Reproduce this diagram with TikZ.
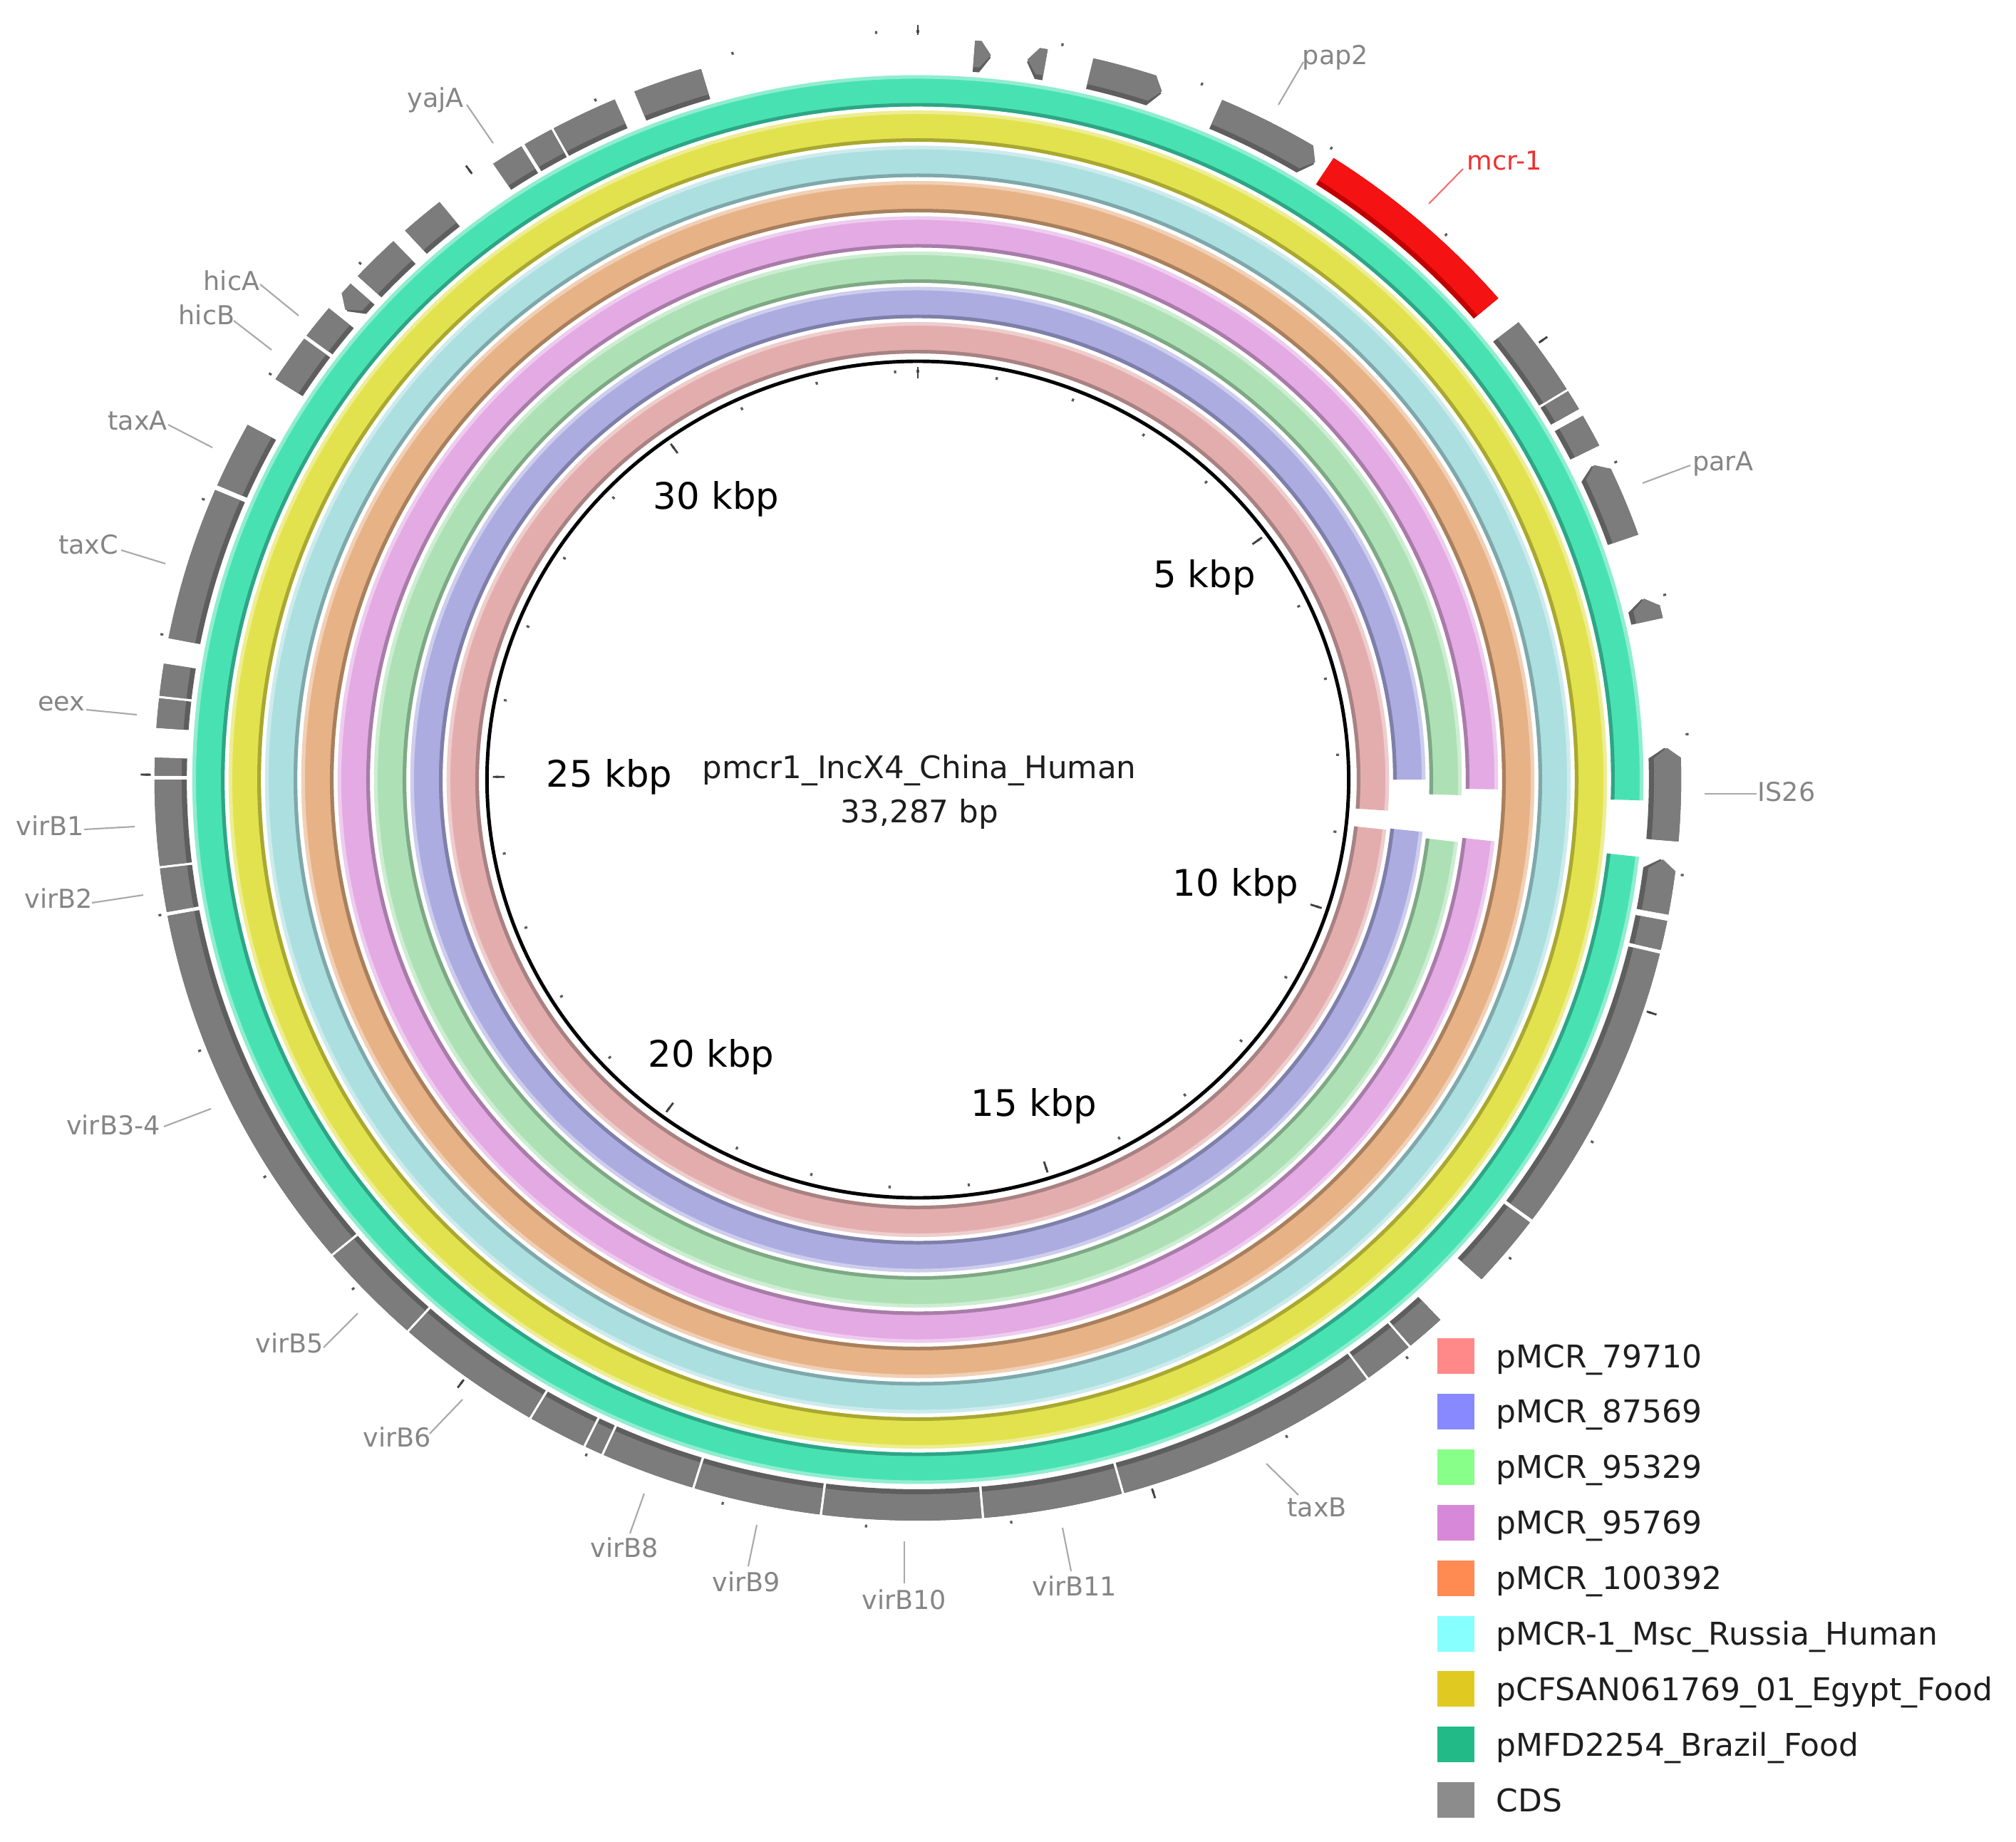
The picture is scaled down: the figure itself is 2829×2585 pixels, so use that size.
\documentclass[tikz,border=0pt]{standalone}
\usepackage{fontspec}
\setmainfont{DejaVu Sans}
% ring colours
\definecolor{rpink}{HTML}{E4ADAD}\definecolor{dpink}{HTML}{A88282}
\definecolor{rblue}{HTML}{ACACE1}\definecolor{dblue}{HTML}{7F7FAA}
\definecolor{rgreen}{HTML}{ADE1B5}\definecolor{dgreen}{HTML}{7FA886}
\definecolor{rmag}{HTML}{E3AAE3}\definecolor{dmag}{HTML}{A87CA8}
\definecolor{rorange}{HTML}{E7B286}\definecolor{dorange}{HTML}{A8805E}
\definecolor{rcyan}{HTML}{ACDFE0}\definecolor{dcyan}{HTML}{7FA8AA}
\definecolor{ryellow}{HTML}{E2E24E}\definecolor{dyellow}{HTML}{A8A832}
\definecolor{rteal}{HTML}{48E2B2}\definecolor{dteal}{HTML}{2FA585}
\definecolor{cdsgray}{HTML}{7C7C7C}\definecolor{cdsdark}{HTML}{5E5E5E}
\definecolor{mcrred}{HTML}{F41212}\definecolor{mcrdark}{HTML}{C00000}
% legend colours
\definecolor{lgpink}{HTML}{FF8888}\definecolor{lgblue}{HTML}{8888FF}
\definecolor{lggreen}{HTML}{88FF88}\definecolor{lgmag}{HTML}{D888D8}
\definecolor{lgorange}{HTML}{FF8A52}\definecolor{lgcyan}{HTML}{88FFFF}
\definecolor{lgyellow}{HTML}{E0CA22}\definecolor{lgteal}{HTML}{22BB88}
\definecolor{lggray}{HTML}{8C8C8C}
\definecolor{labgray}{HTML}{858585}\definecolor{linegray}{HTML}{A8A8A8}
\definecolor{labred}{HTML}{F03030}\definecolor{linered}{HTML}{F07070}
\definecolor{legtxt}{HTML}{1E1E1E}

% annular sector: #1 options, #2 start angle, #3 end angle (clockwise from top), #4 inner r, #5 outer r
\newcommand\annsec[5]{\fill[#1] ({#2-90}:#4) arc[start angle={#2-90},end angle={#3-90},radius=#4]
  -- ({#3-90}:#5) arc[start angle={#3-90},end angle={#2-90},radius=#5] -- cycle;}
% coloured ring with inner shadow and outer highlight
\newcommand\ringseg[5]{%
  \pgfmathsetmacro\rgA{#1}\pgfmathsetmacro\rgB{#1+44}%
  \pgfmathsetmacro\rgC{#1+5}\pgfmathsetmacro\rgD{#1+39}%
  \annsec{fill=#2}{#4}{#5}{\rgA}{\rgB}%
  \annsec{fill=#3}{#4}{#5}{\rgA}{\rgC}%
  \annsec{fill=white,fill opacity=0.4}{#4}{#5}{\rgD}{\rgB}}
% CDS arrow: #1 options, #2 a, #3 b, #4 dir (1 cw, -1 ccw, 0 none), #5 r1, #6 r2
\newcommand\cdsshape[6]{%
  \pgfmathsetmacro\cdsmid{(#5+#6)/2}%
  \ifnum#4=1
    \fill[#1] ({#2-90}:#5) arc[start angle={#2-90},end angle={#3-90.8},radius=#5]
      -- ({#3-90}:\cdsmid) -- ({#3-90.8}:#6) arc[start angle={#3-90.8},end angle={#2-90},radius=#6] -- cycle;
  \else\ifnum#4=-1
    \fill[#1] ({#2-89.2}:#5) arc[start angle={#2-89.2},end angle={#3-90},radius=#5]
      -- ({#3-90}:#6) arc[start angle={#3-90},end angle={#2-89.2},radius=#6] -- ({#2-90}:\cdsmid) -- cycle;
  \else
    \annsec{#1}{#2}{#3}{#5}{#6}%
  \fi\fi}

\begin{document}
\begin{tikzpicture}[x=0.01cm,y=-0.01cm,
  glabel/.style={font=\fontsize{10.4}{12}\selectfont,text=labgray,inner sep=0pt},
  gline/.style={draw=linegray,line width=0.6pt},
  scalelab/.style={font=\fontsize{14.6}{17}\selectfont,text=black,inner sep=0pt},
  titlelab/.style={font=\fontsize{12.4}{15}\selectfont,text=legtxt,inner sep=0pt},
  legtext/.style={font=\fontsize{12.5}{15}\selectfont,text=legtxt,inner sep=0pt},
  tickdot/.style={draw=black!65,line width=0.9pt},
  ticklong/.style={draw=black!75,line width=0.8pt}]
\useasboundingbox (0,0) rectangle (2829,2585);

\begin{scope}[shift={(1288,1094)},xscale=1.03]
  % comparison rings (inner to outer)
  \foreach \rr/\cb/\cd/\sa/\sb in {598/rpink/dpink/96.3/453.9,
      647.5/rblue/dblue/96.1/450.0,
      697/rgreen/dgreen/96.8/451.7,
      746.5/rmag/dmag/96.3/451.0,
      796/rorange/dorange/0/360,
      845.5/rcyan/dcyan/0/360,
      895/ryellow/dyellow/0/360,
      944.5/rteal/dteal/96.3/451.7}
    {\ringseg{\rr}{\cb}{\cd}{\sa}{\sb}}

  % backbone circle
  \draw[black,line width=1.4pt] (0,0) ellipse[x radius=587,y radius=587];

  % CDS features
  \foreach \a/\b/\d in {4.3/5.6/1, 8.4/9.8/-1, 13.3/19.0/1, 23.5/32.0/1,
      51.9/58.2/0, 58.4/60.0/0, 60.6/63.2/0, 64.4/70.7/-1, 75.6/77.4/-1,
      87.5/94.8/-1, 96.3/100.5/-1, 101.0/103.3/0, 103.6/126.4/0, 126.7/132.4/0,
      136.8/139.8/0, 140.0/143.8/0, 144.0/164.3/0, 164.5/175.0/0, 175.2/187.2/0,
      187.4/197.0/0, 197.2/204.3/0, 204.5/205.8/0, 206.0/210.4/0, 210.6/221.8/0,
      222.0/230.0/0, 230.2/259.4/0, 259.7/263.1/0, 263.3/270.0/0, 270.3/271.7/0,
      274.0/276.3/0, 276.5/279.0/0, 281.0/293.0/0, 293.4/298.6/0, 302.7/306.5/0,
      306.8/309.5/0, 310.2/312.0/-1, 312.8/316.6/0, 317.8/321.2/0, 326.2/328.7/0,
      329.0/331.3/0, 331.5/336.6/0, 338.2/343.5/0}
    {\cdsshape{fill=cdsdark}{\a}{\b}{\d}{996}{1040}%
     \cdsshape{fill=cdsgray}{\a}{\b}{\d}{1003}{1040}}
  % mcr-1
  \annsec{fill=mcrdark}{33.0}{49.5}{996}{1040}
  \annsec{fill=mcrred}{33.0}{49.5}{1003}{1040}

  % ticks every kbp (outer and inner)
  \foreach \k in {0,...,33}{
    \draw[tickdot] ({\k*10.81503-90}:1048) -- ({\k*10.81503-90}:1052);
    \draw[tickdot] ({\k*10.81503-90}:571) -- ({\k*10.81503-90}:575);}
  \foreach \k in {0,5,...,30}{
    \draw[ticklong] ({\k*10.81503-90}:1045) -- ({\k*10.81503-90}:1059);
    \draw[ticklong] ({\k*10.81503-90}:563) -- ({\k*10.81503-90}:579);}
\end{scope}

% scale labels
\node[scalelab] (k30) at (1005,700) {30 kbp};
\node[scalelab] (k5)  at (1690,810) {5 kbp};
\node[scalelab] (k25) at (855,1090) {25 kbp};
\node[scalelab] (k10) at (1734,1243) {10 kbp};
\node[scalelab] (k20) at (998,1483) {20 kbp};
\node[scalelab] (k15) at (1451,1552) {15 kbp};

% centre title
\node[titlelab] (title) at (1290,1081) {pmcr1\_IncX4\_China\_Human};
\node[titlelab] (size)  at (1290,1142) {33,287 bp};

% gene labels with leader lines
\foreach \nm/\lab/\tx/\ty/\ax/\ay/\bx/\by in {
    pap2/pap2/1874/81/1794/147/1829/87,
    parA/parA/2418/651/2305/678/2372/653,
    IS26/IS26/2507/1111/2392/1114/2465/1114,
    taxB/taxB/1848/2115/1777/2054/1822/2098,
    virB11/virB11/1508/2226/1491/2144/1503/2205,
    virB10/virB10/1269/2245/1269/2163/1269/2222,
    virB9/virB9/1047/2220/1062/2140/1050/2198,
    virB8/virB8/876/2172/904/2096/884/2152,
    virB6/virB6/557/2017/649/1964/603/2012,
    virB5/virB5/406/1885/502/1843/454/1891,
    virB34/virB3-4/159/1579/296/1556/230/1581,
    virB2/virB2/82/1261/201/1256/129/1267,
    virB1/virB1/70/1159/189/1160/118/1164,
    eex/eex/86/988/192/1003/121/996,
    taxC/taxC/124/764/232/791/170/772,
    taxA/taxA/193/590/298/628/236/596,
    hicB/hicB/290/442/381/491/328/450,
    hicA/hicA/325/394/419/443/365/399,
    yajA/yajA/611/140/692/201/655/147}
  {\coordinate (\nm-f) at (\ax,\ay);
   \coordinate (\nm-t) at (\bx,\by);
   \node[glabel] (\nm) at (\tx,\ty) {\lab};
   \draw[gline] (\nm-f) -- (\nm-t);}
\coordinate (mcr-f) at (2005,286);
\coordinate (mcr-t) at (2053,237);
\node[glabel,text=labred] (mcr) at (2111,225) {mcr-1};
\draw[gline,draw=linered] (mcr-f) -- (mcr-t);

% legend
\foreach \i/\cc/\lab in {0/lgpink/pMCR\_79710, 1/lgblue/pMCR\_87569,
    2/lggreen/pMCR\_95329, 3/lgmag/pMCR\_95769, 4/lgorange/pMCR\_100392,
    5/lgcyan/pMCR-1\_Msc\_Russia\_Human, 6/lgyellow/pCFSAN061769\_01\_Egypt\_Food,
    7/lgteal/pMFD2254\_Brazil\_Food, 8/lggray/CDS}
  {\pgfmathsetmacro\yy{1903+77.9*\i}
   \fill[\cc] (2017,\yy-25) rectangle (2069,\yy+25);
   \node[legtext,anchor=base west] (leg\i) at (2099,\yy+16) {\lab};}
\end{tikzpicture}
\end{document}
